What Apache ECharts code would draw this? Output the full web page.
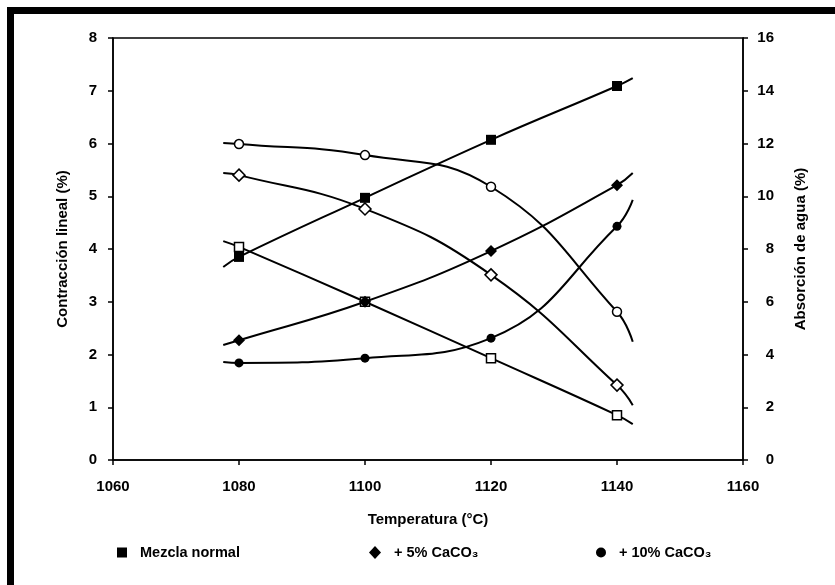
<!DOCTYPE html>
<html>
<head>
<meta charset="utf-8">
<script src="https://cdn.jsdelivr.net/npm/echarts@6/dist/echarts.min.js"></script>
<style>
html,body{margin:0;padding:0;background:#fff;}
#c{width:835px;height:585px;}
</style>
</head>
<body>
<div id="c"></div>
<script>
// ---- data ----
var temps = [1080, 1100, 1120, 1140];
var xTicks = [1060, 1080, 1100, 1120, 1140, 1160];
// Contracción lineal (%), left axis (filled markers)
var mezclaContr = [3.85, 4.97, 6.07, 7.09];
var caco5Contr  = [2.27, 3.00, 3.96, 5.21];
var caco10Contr = [1.84, 1.93, 2.31, 4.43];
// Absorción de agua (%), right axis (open markers)
var mezclaAbs = [8.08, 6.00, 3.86, 1.70];
var caco5Abs  = [10.80, 9.52, 7.02, 2.84];
var caco10Abs = [11.98, 11.56, 10.36, 5.62];
// fitted curve ends (drawn slightly beyond the data points)
var curveX = [1077.5, 1142.5];
var mezclaContrEnds = [3.66, 7.24];
var caco5ContrEnds  = [2.18, 5.44];
var caco10ContrEnds = [1.86, 4.93];
var mezclaAbsEnds = [8.30, 1.36];
var caco5AbsEnds  = [10.88, 2.08];
var caco10AbsEnds = [12.02, 4.48];
var legendNames = ['Mezcla normal', '+ 5% CaCO\u2083', '+ 10% CaCO\u2083'];

var FONT = '"Liberation Sans", Arial, sans-serif';

function build(vals, ends) {
  var d = [{value: [curveX[0], ends[0]], symbol: 'none'}];
  for (var i = 0; i < temps.length; i++) d.push({value: [temps[i], vals[i]]});
  d.push({value: [curveX[1], ends[1]], symbol: 'none'});
  return d;
}
function series(name, vals, ends, axis, symbol, size, open) {
  return {
    name: name, type: 'line', yAxisIndex: axis,
    data: build(vals, ends),
    smooth: 0.45,
    symbol: symbol, symbolSize: size, showAllSymbol: true,
    lineStyle: {color: '#000', width: 2},
    itemStyle: open ? {color: '#fff', borderColor: '#000', borderWidth: 1.5}
                    : {color: '#000', borderColor: '#000', borderWidth: 0},
    emphasis: {disabled: true},
    animation: false, z: open ? 3 : 4
  };
}

var chart = echarts.init(document.getElementById('c'));
var axisLbl = {color: '#000', fontFamily: FONT, fontWeight: 'bold', fontSize: 15};
var nameStyle = {color: '#000', fontFamily: FONT, fontWeight: 'bold', fontSize: 15};
var legendText = {color: '#000', fontFamily: FONT, fontWeight: 'bold', fontSize: 14.5, padding: [0, 0, 0, 8]};
function plain(v) { return String(v); }
chart.setOption({
  animation: false,
  backgroundColor: '#fff',
  grid: {left: 113, right: 92, top: 38, bottom: 125, show: true, borderColor: '#000', borderWidth: 1.5, backgroundColor: 'transparent'},
  xAxis: {
    type: 'value', min: xTicks[0], max: xTicks[xTicks.length - 1], interval: 20,
    name: 'Temperatura (°C)', nameLocation: 'middle', nameGap: 52,
    nameTextStyle: nameStyle,
    axisLine: {lineStyle: {color: '#000', width: 1.5}},
    axisTick: {length: 5, lineStyle: {color: '#000', width: 1.5}},
    axisLabel: Object.assign({margin: 19, formatter: plain}, axisLbl),
    splitLine: {show: false}
  },
  yAxis: [{
    type: 'value', min: 0, max: 8, interval: 1, position: 'left',
    name: 'Contracción lineal (%)', nameLocation: 'middle', nameGap: 43, nameRotate: 90,
    nameTextStyle: nameStyle,
    axisLine: {show: true, lineStyle: {color: '#000', width: 1.5}},
    axisTick: {show: true, length: 5, lineStyle: {color: '#000', width: 1.5}},
    axisLabel: Object.assign({margin: 16, formatter: plain}, axisLbl),
    splitLine: {show: false}
  }, {
    type: 'value', min: 0, max: 16, interval: 2, position: 'right',
    name: 'Absorción de agua (%)', nameLocation: 'middle', nameGap: 50, nameRotate: 90,
    nameTextStyle: nameStyle,
    axisLine: {show: true, lineStyle: {color: '#000', width: 1.5}},
    axisTick: {show: true, length: 5, lineStyle: {color: '#000', width: 1.5}},
    axisLabel: Object.assign({margin: 31, align: 'right', formatter: plain}, axisLbl),
    splitLine: {show: false}
  }],
  legend: [
    {left: 112, top: 540, itemWidth: 10, itemHeight: 10, textStyle: legendText, selectedMode: false,
     data: [{name: legendNames[0], icon: 'rect'}]},
    {left: 364, top: 540, itemWidth: 12, itemHeight: 13, textStyle: legendText, selectedMode: false,
     data: [{name: legendNames[1], icon: 'diamond'}]},
    {left: 591, top: 540, itemWidth: 10, itemHeight: 10, textStyle: legendText, selectedMode: false,
     data: [{name: legendNames[2], icon: 'circle'}]}
  ],
  series: [
    series(legendNames[0], mezclaContr, mezclaContrEnds, 0, 'rect', 10, false),
    series(legendNames[1], caco5Contr, caco5ContrEnds, 0, 'diamond', 12, false),
    series(legendNames[2], caco10Contr, caco10ContrEnds, 0, 'circle', 9, false),
    series('Absorción mezcla', mezclaAbs, mezclaAbsEnds, 1, 'rect', 9, true),
    series('Absorción 5%', caco5Abs, caco5AbsEnds, 1, 'diamond', 12, true),
    series('Absorción 10%', caco10Abs, caco10AbsEnds, 1, 'circle', 9, true)
  ],
  graphic: [
    {type: 'rect', left: 7, top: 7, shape: {width: 828, height: 7}, style: {fill: '#000'}, silent: true},
    {type: 'rect', left: 7, top: 7, shape: {width: 7, height: 578}, style: {fill: '#000'}, silent: true}
  ]
});
</script>
</body>
</html>
